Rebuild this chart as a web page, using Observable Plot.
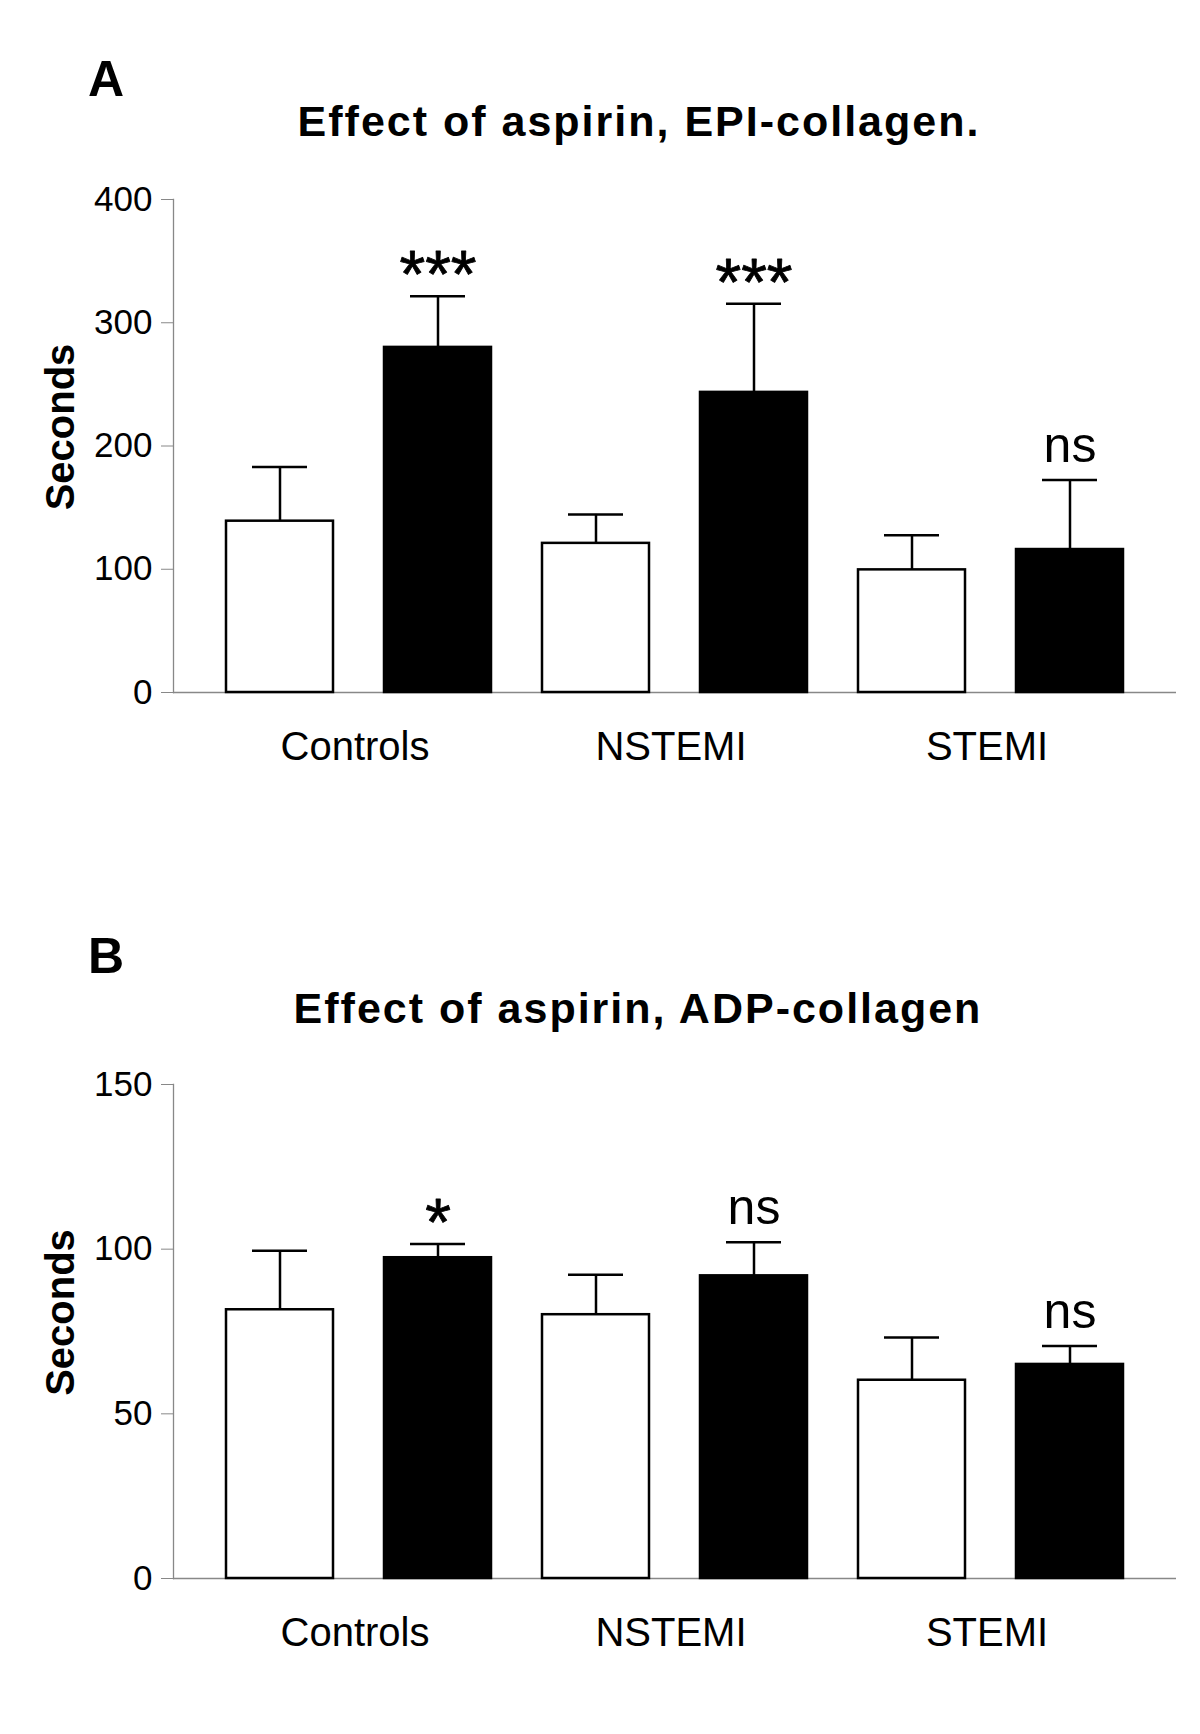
<!DOCTYPE html>
<html><head><meta charset="utf-8">
<script src="https://cdn.jsdelivr.net/npm/d3@7"></script>
<script src="https://cdn.jsdelivr.net/npm/@observablehq/plot@0.6"></script>
<style>
body{margin:0;background:#fff;}
#page{position:relative;width:1200px;height:1734px;background:#fff;font-family:"Liberation Sans",Arial,sans-serif;color:#000;overflow:hidden}
.letter{position:absolute;font-weight:bold;font-size:50px;line-height:50px;left:88px}
.title{position:absolute;font-weight:bold;font-size:43px;line-height:43px;letter-spacing:2px;white-space:nowrap;transform:translateX(-50%)}
.panel{position:absolute;left:0}
</style></head><body>
<div id="page">
  <div class="letter" style="top:54px">A</div>
  <div class="title" style="top:100px;left:639px">Effect of aspirin, EPI-collagen.</div>
  <div class="panel" id="panelA" style="top:150px"></div>
  <div class="letter" style="top:931px">B</div>
  <div class="title" style="top:987px;left:638px">Effect of aspirin, ADP-collagen</div>
  <div class="panel" id="panelB" style="top:1040px"></div>
</div>
<script>
// ---- data ----
const groups = ["Controls", "NSTEMI", "STEMI"];
const treatments = ["Without aspirin", "With aspirin"]; // white, black
const yLabel = "Seconds";

// Panel A: EPI-collagen (order: Controls w/o, w/, NSTEMI w/o, w/, STEMI w/o, w/)
const epiMeans = [139, 280, 121, 243.5, 99.5, 116];
const epiSems  = [44, 41.5, 23.5, 72, 28, 56.5];
const epiSig   = ["", "***", "", "***", "", "ns"];
const epiTicks = [0, 100, 200, 300, 400];

// Panel B: ADP-collagen
const adpMeans = [81.6, 97.4, 80.1, 91.9, 60.2, 65.0];
const adpSems  = [17.9, 4.2, 12.1, 10.2, 13.0, 5.6];
const adpSig   = ["", "*", "", "ns", "", "ns"];
const adpTicks = [0, 50, 100, 150];

// ---- layout ----
const W = 1200, ML = 173, MR = 24, PI = 0.32, PO = 0.334;
const key = (g, t) => `${g}|${t}`;
const keys = groups.flatMap(g => treatments.map(t => key(g, t)));
const step = (W - ML - MR) / (keys.length - PI + 2 * PO);
const font = '"Liberation Sans", Arial, sans-serif';

function panel({means, sems, sig, ticks, height, marginTop, marginBottom}) {
  const rows = keys.map((k, i) => ({
    key: k,
    group: groups[Math.floor(i / 2)],
    treatment: treatments[i % 2],
    mean: means[i],
    upper: means[i] + sems[i],
    sig: sig[i]
  }));
  return Plot.plot({
    width: W, height, marginTop, marginBottom, marginLeft: ML, marginRight: MR,
    style: {fontFamily: font, fontSize: "35px", background: "white", color: "black", overflow: "visible"},
    x: {type: "band", domain: keys, paddingInner: PI, paddingOuter: PO, axis: null},
    y: {domain: [0, ticks[ticks.length - 1]], axis: null},
    color: {domain: treatments, range: ["white", "black"]},
    marks: [
      Plot.frame({anchor: "left", stroke: "#888", strokeWidth: 1.3}),
      Plot.axisY({ticks, tickSize: 12, tickPadding: 9, stroke: "#888", fill: "black", fontSize: 35, label: null, tickFormat: d => String(d)}),
      Plot.ruleY([0], {stroke: "#888", strokeWidth: 1.3}),
      Plot.barY(rows, {x: "key", y: "mean", fill: "treatment", stroke: "black", strokeWidth: 2.5}),
      Plot.ruleX(rows, {x: "key", y1: "mean", y2: "upper", stroke: "black", strokeWidth: 2.5}),
      Plot.tickY(rows, {x: "key", y: "upper", insetLeft: 26, insetRight: 26, stroke: "black", strokeWidth: 2.5}),
      Plot.text(rows.filter(d => d.sig.startsWith("*")), {x: "key", y: "upper", text: "sig", fontSize: 66, lineAnchor: "bottom", dy: 1, fill: "black", stroke: "black", strokeWidth: 0.8}),
      Plot.text(rows.filter(d => d.sig === "ns"), {x: "key", y: "upper", text: "sig", fontSize: 50, lineAnchor: "bottom", dy: -18, fill: "black"}),
      Plot.text(groups, {x: g => key(g, treatments[0]), y: 0, text: d => d, fontSize: 40, lineAnchor: "bottom", dx: step / 2 - 4, dy: 67, fill: "black"}),
      Plot.text([yLabel], {frameAnchor: "left", text: d => d, rotate: -90, textAnchor: "middle", fontSize: 40, fontWeight: "bold", lineAnchor: "bottom", dx: -100, dy: -19, fill: "black"})
    ]
  });
}

document.getElementById("panelA").appendChild(panel({
  means: epiMeans, sems: epiSems, sig: epiSig, ticks: epiTicks,
  height: 650, marginTop: 49, marginBottom: 108
}));
document.getElementById("panelB").appendChild(panel({
  means: adpMeans, sems: adpSems, sig: adpSig, ticks: adpTicks,
  height: 694, marginTop: 44, marginBottom: 156
}));
</script>
</body></html>
